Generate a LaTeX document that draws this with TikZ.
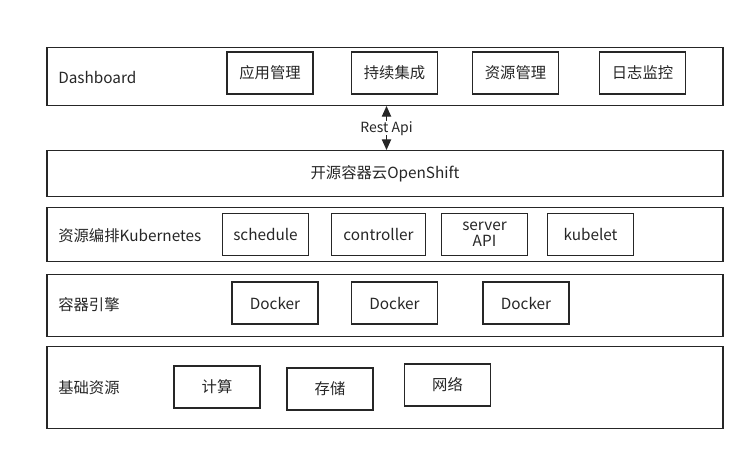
\documentclass[tikz,border=0pt]{standalone}
\usepackage{fontspec}
\setmainfont{Noto Sans CJK SC}
\usetikzlibrary{arrows.meta}

\begin{document}
\begin{tikzpicture}[x=0.75pt, y=-0.75pt,
		every node/.style={font=\fontsize{11.5}{13}\selectfont, text=black!85},
		layer/.style={draw=black!85, line width=0.9pt, rectangle, minimum width=507pt, inner sep=0pt},
		item/.style={draw=black!85, line width=0.9pt, rectangle, minimum height=31.5pt, inner sep=0pt},
		lname/.style={anchor=west, inner sep=0pt}]
				\useasboundingbox (0, 0) rectangle (755, 461);
				% layers
				\node[layer, minimum height=44pt] (L1)at(385, 76.5) {};
				\node[layer, minimum height=35pt] (L2)at(385, 173.5) {开源容器云OpenShift};
				\node[layer, minimum height=40pt] (L3)at(385, 234.5) {};
				\node[layer, minimum height=47pt] (L4)at(385, 305.5) {};
				\node[layer, minimum height=61pt] (L5)at(385, 387.5) {};
				\node[lname] (N1)at(58, 77) {Dashboard};
				\node[lname] (N3)at(58, 236) {资源编排Kubernetes};
				\node[lname] (N4)at(58, 305) {容器引擎};
				\node[lname] (N5)at(58, 388) {基础资源};
				% Dashboard
				\node[item, minimum width=64.5pt] (D1)at(270, 73) {应用管理};
				\node[item, minimum width=64pt] (D2)at(394.5, 73) {持续集成};
				\node[item, minimum width=64pt] (D3)at(515.5, 73) {资源管理};
				\node[item, minimum width=65pt] (D4)at(642.5, 73) {日志监控};
				% Kubernetes
				\node[item, minimum width=64pt, minimum height=32pt] (K1)at(265.5, 234.5) {schedule};
				\node[item, minimum width=71pt, minimum height=32pt] (K2)at(378.5, 234.5) {controller};
				\node[item, minimum width=64pt, minimum height=32pt, align=center, font=\fontsize{11.5}{12}\selectfont] (K3)at(484.5, 234.5) {server\\API};
				\node[item, minimum width=64pt, minimum height=32pt] (K4)at(590.5, 234.5) {kubelet};
				% Docker
				\node[item, minimum width=64.5pt] (C1)at(275, 303) {Docker};
				\node[item, minimum width=64pt] (C2)at(394.5, 303) {Docker};
				\node[item, minimum width=64.5pt] (C3)at(526, 303) {Docker};
				% base
				\node[item, minimum width=64.5pt] (B1)at(217, 387) {计算};
				\node[item, minimum width=64.5pt] (B2)at(330, 389) {存储};
				\node[item, minimum width=64pt] (B3)at(447.5, 385) {网络};
				% api
				\coordinate (T)at(386.5, 106);
				\coordinate (S)at(386.5, 150);
				\draw[line width=0.9pt, black!85, {Triangle[length=8pt, width=7pt]}-{Triangle[length=8pt, width=7pt]}] (T) -- (S) node[midway, fill=white, inner sep=0.5pt, text height=7.5pt, text depth=1.5pt, font=\fontsize{10.5}{12}\selectfont] (R) {Rest Api};
			\end{tikzpicture}
\end{document}
